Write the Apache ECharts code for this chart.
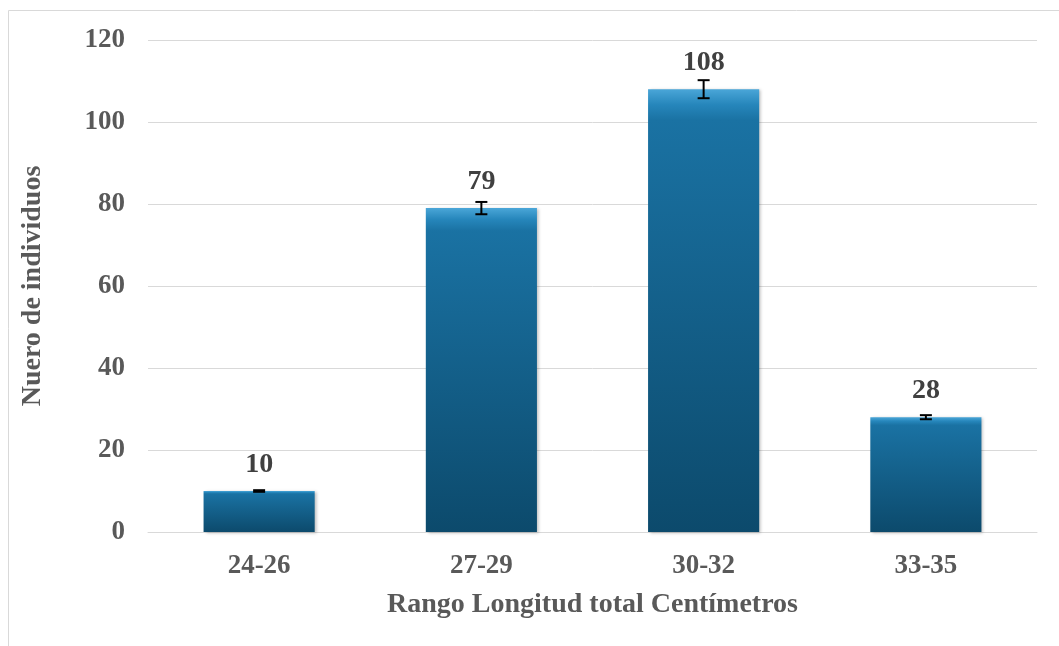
<!DOCTYPE html>
<html><head><meta charset="utf-8">
<script src="https://cdn.jsdelivr.net/npm/echarts@6/dist/echarts.min.js"></script>
<style>html,body{margin:0;padding:0;background:#fff}#c{width:1059px;height:646px}</style>
</head><body><div id="c"></div>
<script>
const categories = ['24-26', '27-29', '30-32', '33-35'];
const values = [10, 79, 108, 28];
const errors = [0.2, 1.5, 2.2, 0.5];
const yTicks = { min: 0, max: 120, interval: 20 };

const chart = echarts.init(document.getElementById('c'));
const font = 'Liberation Serif, Times New Roman, serif';
const gray = '#595959';

chart.setOption({
  animation: false,
  graphic: [
    { type: 'polyline', shape: { points: [[8.5, 646], [8.5, 10.5], [1059, 10.5]] }, style: { stroke: '#d9d9d9', lineWidth: 1, fill: null } }
  ],
  grid: { left: 148, right: 22, top: 40, bottom: 114 },
  xAxis: {
    type: 'category', data: categories,
    axisLine: { lineStyle: { color: '#d9d9d9', width: 1 } },
    axisTick: { show: false },
    axisLabel: { color: gray, fontFamily: font, fontWeight: 'bold', fontSize: 27, margin: 21 },
    name: 'Rango Longitud total Centímetros', nameLocation: 'middle', nameGap: 59,
    nameTextStyle: { color: gray, fontFamily: font, fontWeight: 'bold', fontSize: 28 }
  },
  yAxis: {
    type: 'value', min: yTicks.min, max: yTicks.max, interval: yTicks.interval,
    axisLine: { show: false }, axisTick: { show: false },
    splitLine: { lineStyle: { color: '#d9d9d9', width: 1 } },
    axisLabel: { color: gray, fontFamily: font, fontWeight: 'bold', fontSize: 27, margin: 23 },
    name: 'Nuero de individuos', nameLocation: 'middle', nameGap: 101, nameRotate: 90,
    nameTextStyle: { color: gray, fontFamily: font, fontWeight: 'bold', fontSize: 28 }
  },
  series: [
    {
      type: 'bar', data: values, barWidth: '50%',
      itemStyle: {
        color: new echarts.graphic.LinearGradient(0, 0, 0, 1, [
          { offset: 0, color: '#4aa6d8' },
          { offset: 0.035, color: '#2686bb' },
          { offset: 0.07, color: '#1a72a3' },
          { offset: 1, color: '#0c4a6c' }
        ]),
        shadowColor: 'rgba(0,0,0,0.25)', shadowBlur: 3, shadowOffsetX: 2, shadowOffsetY: 1
      },
      label: { show: true, position: 'top', distance: 12, color: '#404040', fontFamily: font, fontWeight: 'bold', fontSize: 28 }
    },
    {
      type: 'custom', z: 5,
      data: values.map((v, i) => [i, v, errors[i]]),
      renderItem: function (params, api) {
        const x = api.value(0), v = api.value(1), e = api.value(2);
        const top = api.coord([x, v + e]);
        const bot = api.coord([x, v - e]);
        const hw = 6;
        return {
          type: 'group',
          children: [
            { type: 'line', shape: { x1: top[0], y1: top[1], x2: bot[0], y2: bot[1] }, style: { stroke: '#000', lineWidth: 2 } },
            { type: 'line', shape: { x1: top[0] - hw, y1: top[1], x2: top[0] + hw, y2: top[1] }, style: { stroke: '#000', lineWidth: 2 } },
            { type: 'line', shape: { x1: bot[0] - hw, y1: bot[1], x2: bot[0] + hw, y2: bot[1] }, style: { stroke: '#000', lineWidth: 2 } }
          ]
        };
      }
    }
  ]
});
</script></body></html>
